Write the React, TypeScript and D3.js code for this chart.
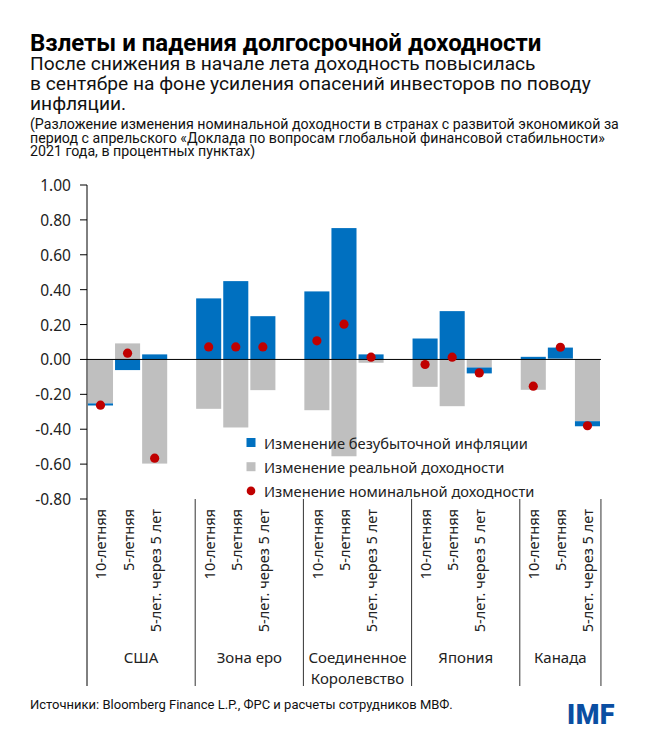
import React from "react";
import * as d3 from "d3";

// values (percentage points)
const countries = ["США", "Зона еро", "Соединенное\nКоролевство", "Япония", "Канада"];
const tenors = ["10-летняя", "5-летняя", "5-лет. через 5 лет"];

// [10-летняя, 5-летняя, 5-лет. через 5 лет] for each country
const breakevenInflation = [
  [-0.012, -0.061, 0.029],
  [0.35, 0.449, 0.248],
  [0.39, 0.753, 0.029],
  [0.12, 0.277, -0.034],
  [0.015, 0.063, -0.029],
];
const realYield = [
  [-0.252, 0.092, -0.597],
  [-0.283, -0.39, -0.176],
  [-0.291, -0.555, -0.019],
  [-0.157, -0.268, -0.046],
  [-0.174, 0.005, -0.354],
];
const nominalYield = [
  [-0.262, 0.036, -0.566],
  [0.072, 0.072, 0.072],
  [0.107, 0.202, 0.013],
  [-0.029, 0.013, -0.077],
  [-0.153, 0.07, -0.38],
];

const yTicks = [1.0, 0.8, 0.6, 0.4, 0.2, 0, -0.2, -0.4, -0.6, -0.8];
const yTickLabels = ["1.00", "0.80", "0.60", "0.40", "0.20", "0.00", "-0.20", "-0.40", "-0.60", "-0.80"];

const legendLabels = [
  "Изменение безубыточной инфляции",
  "Изменение реальной доходности",
  "Изменение номинальной доходности",
];

const BLUE = "#0070C0";
const GRAY = "#BFBFBF";
const RED = "#C00000";
const CHART_FONT = "'Noto Sans', 'Open Sans', sans-serif";
const HEAD_FONT = "Roboto, sans-serif";

const W = 650;
const H = 736;
const left = 87;
const slot = 27.05;
const plotRight = left + slot * 19;
const yTop = 185;
const yBottom = 499;
const axisEnd = 686;

export default function App() {
  const y = d3.scaleLinear().domain([-0.8, 1.0]).range([yBottom, yTop]);

  const group = d3
    .scaleBand<string>()
    .domain(countries)
    .range([left, left + slot * 4 * countries.length])
    .paddingInner(0);
  const inner = d3
    .scaleBand<string>()
    .domain(tenors)
    .range([0, slot * 3])
    .paddingInner(0.075)
    .paddingOuter(0.035);

  type Row = { country: string; tenor: string; real: number; infl: number; nominal: number };
  const rows: Row[] = [];
  countries.forEach((c, ci) =>
    tenors.forEach((t, ti) =>
      rows.push({
        country: c,
        tenor: t,
        real: realYield[ci][ti],
        infl: breakevenInflation[ci][ti],
        nominal: nominalYield[ci][ti],
      })
    )
  );

  const stack = d3
    .stack<Row>()
    .keys(["real", "infl"])
    .value((d, k) => (d as any)[k])
    .offset(d3.stackOffsetDiverging);
  const series = stack(rows);
  const colors = [GRAY, BLUE];

  const bx = (d: Row) => (group(d.country) as number) + (inner(d.tenor) as number);
  const bw = inner.bandwidth();

  const separators = countries.map((c) => group(c) as number);
  separators.push(plotRight);

  const zeroY = y(0);

  return (
    <svg
      width={W}
      height={H}
      viewBox={`0 0 ${W} ${H}`}
      style={{ position: "absolute", left: 0, top: 0, background: "#fff" }}
    >
      <rect width={W} height={H} fill="#fff" />
      {/* heading */}
      <text x={30} y={51} fontFamily={HEAD_FONT} fontWeight={700} fontSize={24} fill="#000">
        Взлеты и падения долгосрочной доходности
      </text>
      <g fontFamily={HEAD_FONT} fontSize={19.2} fill="#111">
        <text x={30} y={70}>После снижения в начале лета доходность повысилась</text>
        <text x={30} y={90}>в сентябре на фоне усиления опасений инвесторов по поводу</text>
        <text x={30} y={110}>инфляции.</text>
      </g>
      <g fontFamily={HEAD_FONT} fontSize={14.2} fill="#111">
        <text x={30} y={129}>(Разложение изменения номинальной доходности в странах с развитой экономикой за</text>
        <text x={30} y={142.5}>период с апрельского «Доклада по вопросам глобальной финансовой стабильности»</text>
        <text x={30} y={156}>2021 года, в процентных пунктах)</text>
      </g>

      {/* bars */}
      {series.map((s, si) => (
        <g key={s.key} fill={colors[si]}>
          {s.map((seg, i) => {
            const top = y(Math.max(seg[0], seg[1]));
            const bot = y(Math.min(seg[0], seg[1]));
            return <rect key={i} x={bx(rows[i])} y={top} width={bw} height={Math.max(0, bot - top)} />;
          })}
        </g>
      ))}

      {/* zero line */}
      <line x1={left} x2={plotRight} y1={zeroY} y2={zeroY} stroke="#000" strokeWidth={1} />

      {/* nominal dots */}
      {rows.map((d, i) => (
        <circle key={i} cx={bx(d) + bw / 2} cy={y(d.nominal)} r={4.6} fill={RED} />
      ))}

      {/* y axis */}
      <line x1={left} x2={left} y1={yTop} y2={axisEnd} stroke="#000" strokeWidth={1} />
      <g fontFamily={CHART_FONT} fontSize={15.5} fill="#222">
        {yTicks.map((t, i) => (
          <g key={t}>
            <line x1={left - 7} x2={left} y1={y(t)} y2={y(t)} stroke="#000" />
            <text x={71} y={y(t)} textAnchor="end" dominantBaseline="central">
              {yTickLabels[i]}
            </text>
          </g>
        ))}
      </g>

      {/* group separators */}
      {separators.slice(1).map((sx, i) => (
        <line key={i} x1={sx} x2={sx} y1={yBottom} y2={axisEnd} stroke="#333" strokeWidth={1} />
      ))}

      {/* tenor labels */}
      <g fontFamily={CHART_FONT} fontSize={14.6} fill="#222">
        {rows.map((d, i) => {
          const cx = bx(d) + bw / 2;
          return (
            <text
              key={i}
              transform={`translate(${cx},509) rotate(-90)`}
              textAnchor="end"
              dominantBaseline="central"
            >
              {d.tenor}
            </text>
          );
        })}
      </g>

      {/* country labels */}
      <g fontFamily={CHART_FONT} fontSize={15} fill="#222" textAnchor="middle">
        {countries.map((c, i) => {
          const cx = (separators[i] + separators[i + 1]) / 2;
          return c.split("\n").map((line, li) => (
            <text key={c + li} x={cx} y={656.5 + li * 21} dominantBaseline="central">
              {line}
            </text>
          ));
        })}
      </g>

      {/* legend */}
      <g fontFamily={CHART_FONT} fontSize={14.7} fill="#222">
        {legendLabels.map((l, i) => {
          const cy = 442.5 + i * 24.2;
          return (
            <g key={l}>
              {i < 2 ? (
                <rect x={246.5} y={cy - 4.5} width={9} height={9} fill={i === 0 ? BLUE : GRAY} />
              ) : (
                <circle cx={251} cy={cy} r={4.3} fill={RED} />
              )}
              <text x={264} y={cy} dominantBaseline="central">
                {l}
              </text>
            </g>
          );
        })}
      </g>

      {/* footer */}
      <text x={30} y={709} fontFamily={HEAD_FONT} fontSize={13} fill="#111">
        Источники: Bloomberg Finance L.P., ФРС и расчеты сотрудников МВФ.
      </text>
      <text x={567} y={724} fontFamily={HEAD_FONT} fontWeight={900} fontSize={27} fill="#0a4ea2" letterSpacing={0.5}>
        IMF
      </text>
    </svg>
  );
}
